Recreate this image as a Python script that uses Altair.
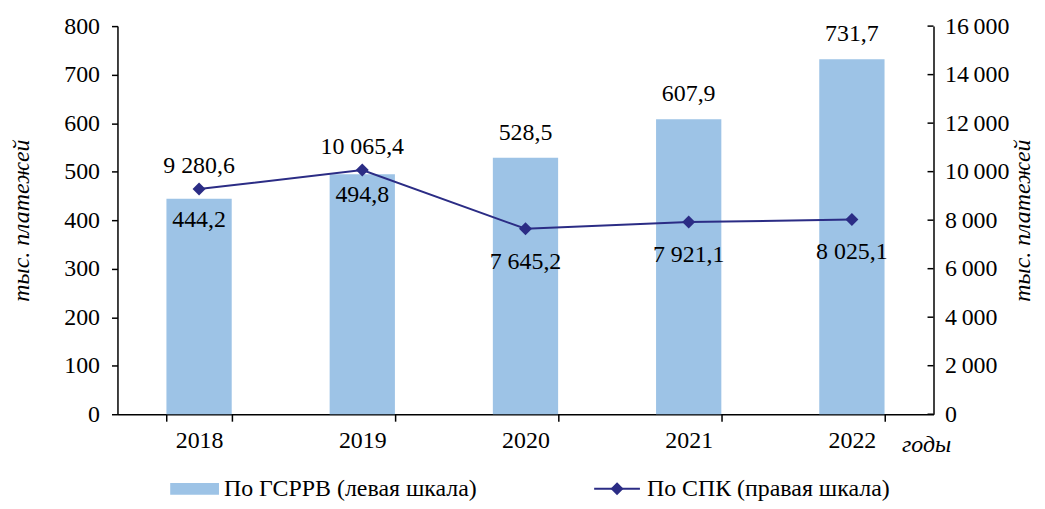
import altair as alt
import pandas as pd

years = ["2018", "2019", "2020", "2021", "2022"]
gsrrv = [444.2, 494.8, 528.5, 607.9, 731.7]          # left scale, bars
spk = [9280.6, 10065.4, 7645.2, 7921.1, 8025.1]       # right scale, line
left_ticks = [0, 100, 200, 300, 400, 500, 600, 700, 800]
right_ticks = [0, 2000, 4000, 6000, 8000, 10000, 12000, 14000, 16000]

bar_label_inside = ["2018", "2019"]
line_label_above = ["2018", "2019"]


def ru(v):
    return f"{v:,.1f}".replace(",", " ").replace(".", ",")


df = pd.DataFrame({
    "year": years,
    "gsrrv": gsrrv,
    "spk": spk,
    "gsrrv_lbl": [ru(v) for v in gsrrv],
    "spk_lbl": [ru(v) for v in spk],
})
ticks_df = pd.DataFrame({"spk": right_ticks})

FONT = "Liberation Serif"
FS = 24
BAR_COLOR = "#9DC3E6"
LINE_COLOR = "#2B2C85"

W, H = 820, 390

X = alt.X(
    "year:N",
    sort=years,
    scale=alt.Scale(paddingInner=0.6, paddingOuter=0.3),
    axis=alt.Axis(
        title=None, labelAngle=0, tickBand="extent", tickSize=7, tickWidth=1.5,
        labelPadding=7, labelFont=FONT, labelFontSize=FS, labelColor="black",
        domainColor="black", tickColor="black", domainWidth=1.5,
    ),
)

Y_LEFT = alt.Y(
    "gsrrv:Q",
    scale=alt.Scale(domain=[0, 800], nice=False),
    axis=alt.Axis(
        values=left_ticks, title="тыс. платежей", titleFont=FONT, titleFontSize=FS,
        titleFontStyle="italic", titleFontWeight="normal", titleColor="black",
        titlePadding=30, tickSize=6, tickWidth=1.5, labelPadding=12,
        labelFont=FONT, labelFontSize=FS, labelColor="black",
        domainColor="black", tickColor="black", domainWidth=1.5,
    ),
)

Y_RIGHT = alt.Y(
    "spk:Q",
    scale=alt.Scale(domain=[0, 16000], nice=False),
    axis=alt.Axis(
        orient="right", values=right_ticks,
        labelExpr="replace(format(datum.value, ','), ',', '\u2009')",
        title="тыс. платежей", titleFont=FONT, titleFontSize=FS, titleAngle=270,
        titleFontStyle="italic", titleFontWeight="normal", titleColor="black",
        titlePadding=26, ticks=False, labelPadding=11,
        labelFont=FONT, labelFontSize=FS, labelColor="black",
        domainColor="black", domainWidth=1.5,
    ),
)

base = alt.Chart(df)

bars = base.mark_bar(color=BAR_COLOR).encode(x=X, y=Y_LEFT)
bar_lbl_in = base.transform_filter(
    alt.FieldOneOfPredicate(field="year", oneOf=bar_label_inside)
).mark_text(font=FONT, fontSize=FS, color="black", baseline="middle", dy=21).encode(
    x=X, y=Y_LEFT, text="gsrrv_lbl:N"
)
bar_lbl_out = base.transform_filter(
    ~alt.FieldOneOfPredicate(field="year", oneOf=bar_label_inside)
).mark_text(font=FONT, fontSize=FS, color="black", baseline="middle", dy=-25).encode(
    x=X, y=Y_LEFT, text="gsrrv_lbl:N"
)
left = alt.layer(bars, bar_lbl_in, bar_lbl_out)

line = base.mark_line(color=LINE_COLOR, strokeWidth=2).encode(x=X, y=Y_RIGHT)
pts = base.mark_point(shape="diamond", filled=True, color=LINE_COLOR, size=170, opacity=1).encode(
    x=X, y=Y_RIGHT
)
line_lbl_up = base.transform_filter(
    alt.FieldOneOfPredicate(field="year", oneOf=line_label_above)
).mark_text(font=FONT, fontSize=FS, color="black", baseline="middle", dy=-23).encode(
    x=X, y=Y_RIGHT, text="spk_lbl:N"
)
line_lbl_down = base.transform_filter(
    ~alt.FieldOneOfPredicate(field="year", oneOf=line_label_above)
).mark_text(font=FONT, fontSize=FS, color="black", baseline="middle", dy=33).encode(
    x=X, y=Y_RIGHT, text="spk_lbl:N"
)
right_axis_ticks = alt.Chart(ticks_df).mark_rule(color="black", strokeWidth=1.5).encode(
    x=alt.value(W - 6), x2=alt.value(W), y=Y_RIGHT
)
right = alt.layer(line, pts, line_lbl_up, line_lbl_down, right_axis_ticks)

LEG_Y = 465
one = alt.Data(values=[{"k": 1}])
leg_rect = alt.Chart(one).mark_rect(color=BAR_COLOR).encode(
    x=alt.value(53), x2=alt.value(102), y=alt.value(LEG_Y - 6), y2=alt.value(LEG_Y + 6)
)
leg_text1 = alt.Chart(one).mark_text(
    font=FONT, fontSize=FS, color="black", align="left", baseline="middle"
).encode(x=alt.value(107), y=alt.value(LEG_Y), text=alt.value("По ГСРРВ (левая шкала)"))
leg_line = alt.Chart(one).mark_rule(color=LINE_COLOR, strokeWidth=2).encode(
    x=alt.value(479), x2=alt.value(525), y=alt.value(LEG_Y)
)
leg_pt = alt.Chart(one).mark_point(
    shape="diamond", filled=True, color=LINE_COLOR, size=170, opacity=1
).encode(x=alt.value(502), y=alt.value(LEG_Y))
leg_text2 = alt.Chart(one).mark_text(
    font=FONT, fontSize=FS, color="black", align="left", baseline="middle"
).encode(x=alt.value(532), y=alt.value(LEG_Y), text=alt.value("По СПК (правая шкала)"))
years_lbl = alt.Chart(one).mark_text(
    font=FONT, fontSize=FS, color="black", fontStyle="italic", align="center", baseline="middle"
).encode(x=alt.value(813), y=alt.value(421), text=alt.value("годы"))

chart = alt.layer(
    left, right, leg_rect, leg_text1, leg_line, leg_pt, leg_text2, years_lbl
).resolve_scale(y="independent").properties(
    width=W, height=H, autosize="none",
    padding={"left": 110, "top": 17, "right": 104, "bottom": 86},
    background="white",
).configure_axis(grid=False).configure_view(stroke=None)

chart.save("out.html", embed_options={"renderer": "svg", "actions": False})
